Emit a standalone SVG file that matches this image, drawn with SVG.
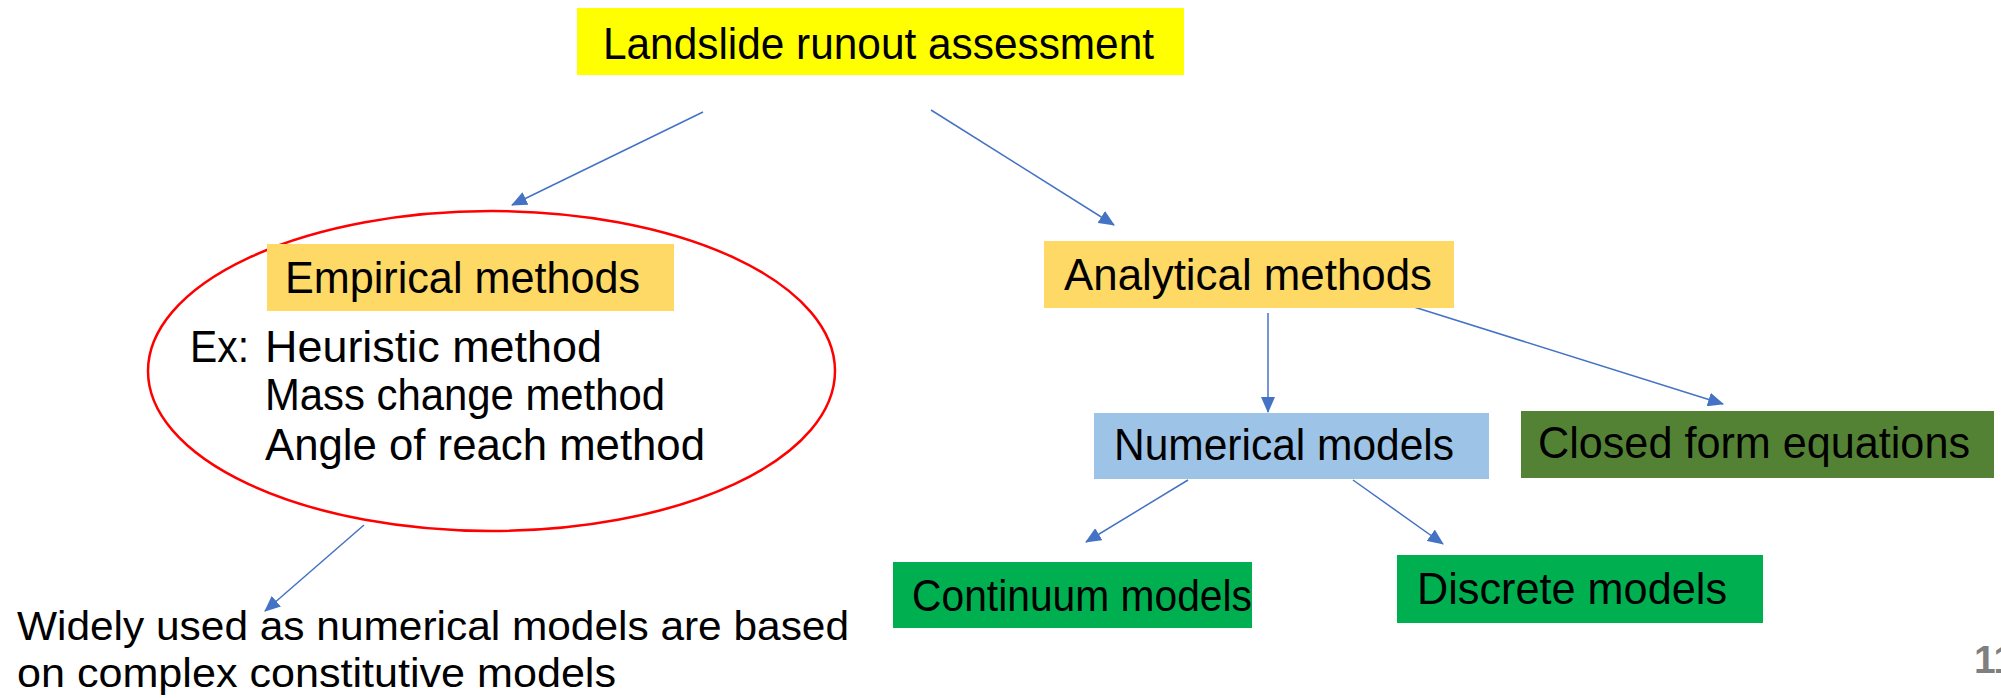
<svg xmlns="http://www.w3.org/2000/svg" width="2001" height="698" viewBox="0 0 2001 698">
<defs>
<style>
text{font-family:"Liberation Sans","DejaVu Sans",sans-serif;fill:#000;}
.t{font-size:44px;}
.w{font-size:40px;}
.c{stroke:#4472C4;stroke-width:1.5;fill:none;}
</style>
<marker id="ah" markerUnits="userSpaceOnUse" markerWidth="16" markerHeight="14" refX="15" refY="7" orient="auto" viewBox="0 0 16 14">
<path d="M0,0 L16,7 L0,14 z" fill="#4472C4"/>
</marker>
</defs>
<rect width="2001" height="698" fill="#fff"/>
<g id="connectors">
<line class="c" x1="703" y1="112" x2="512" y2="205" marker-end="url(#ah)"/>
<line class="c" x1="931" y1="110" x2="1114" y2="225" marker-end="url(#ah)"/>
<line class="c" x1="364" y1="525" x2="265" y2="611" marker-end="url(#ah)"/>
<line class="c" x1="1268" y1="313" x2="1268" y2="412" marker-end="url(#ah)"/>
<line class="c" x1="1414" y1="307" x2="1723" y2="404" marker-end="url(#ah)"/>
<line class="c" x1="1188" y1="480" x2="1086" y2="542" marker-end="url(#ah)"/>
<line class="c" x1="1353" y1="480" x2="1443" y2="544" marker-end="url(#ah)"/>
</g>
<g id="root">
<rect x="577" y="8" width="607" height="67" fill="#FFFF00"/>
<text class="t" x="603" y="59" textLength="551" lengthAdjust="spacingAndGlyphs">Landslide runout assessment</text>
</g>
<g id="empirical">
<ellipse cx="491.5" cy="371" rx="343.5" ry="160" fill="none" stroke="#FF0000" stroke-width="2.5"/>
<rect x="267" y="244" width="407" height="67" fill="#FFD966"/>
<text class="t" x="285" y="293" textLength="355" lengthAdjust="spacingAndGlyphs">Empirical methods</text>
<text class="t" x="190" y="362" textLength="59" lengthAdjust="spacingAndGlyphs">Ex:</text>
<text class="t" x="265" y="362" textLength="337" lengthAdjust="spacingAndGlyphs">Heuristic method</text>
<text class="t" x="265" y="410" textLength="400" lengthAdjust="spacingAndGlyphs">Mass change method</text>
<text class="t" x="265" y="460" textLength="440" lengthAdjust="spacingAndGlyphs">Angle of reach method</text>
</g>
<g id="note">
<text class="w" x="17" y="640" textLength="832" lengthAdjust="spacingAndGlyphs">Widely used as numerical models are based</text>
<text class="w" x="17" y="687" textLength="599" lengthAdjust="spacingAndGlyphs">on complex constitutive models</text>
</g>
<g id="analytical">
<rect x="1044" y="241" width="410" height="67" fill="#FFD966"/>
<text class="t" x="1064" y="290" textLength="368" lengthAdjust="spacingAndGlyphs">Analytical methods</text>
</g>
<g id="numerical">
<rect x="1094" y="413" width="395" height="66" fill="#9DC3E6"/>
<text class="t" x="1114" y="460" textLength="340" lengthAdjust="spacingAndGlyphs">Numerical models</text>
</g>
<g id="closed">
<rect x="1521" y="411" width="473" height="67" fill="#548235"/>
<text class="t" x="1538" y="458" textLength="432" lengthAdjust="spacingAndGlyphs">Closed form equations</text>
</g>
<g id="continuum">
<rect x="893" y="562" width="359" height="66" fill="#00B050"/>
<text class="t" x="912" y="611" textLength="340" lengthAdjust="spacingAndGlyphs">Continuum models</text>
</g>
<g id="discrete">
<rect x="1397" y="555" width="366" height="68" fill="#00B050"/>
<text class="t" x="1417" y="604" textLength="310" lengthAdjust="spacingAndGlyphs">Discrete models</text>
</g>
<g id="page">
<text x="1974" y="673" font-size="39" font-weight="bold" style="fill:#7F7F7F">11</text>
</g>
</svg>
